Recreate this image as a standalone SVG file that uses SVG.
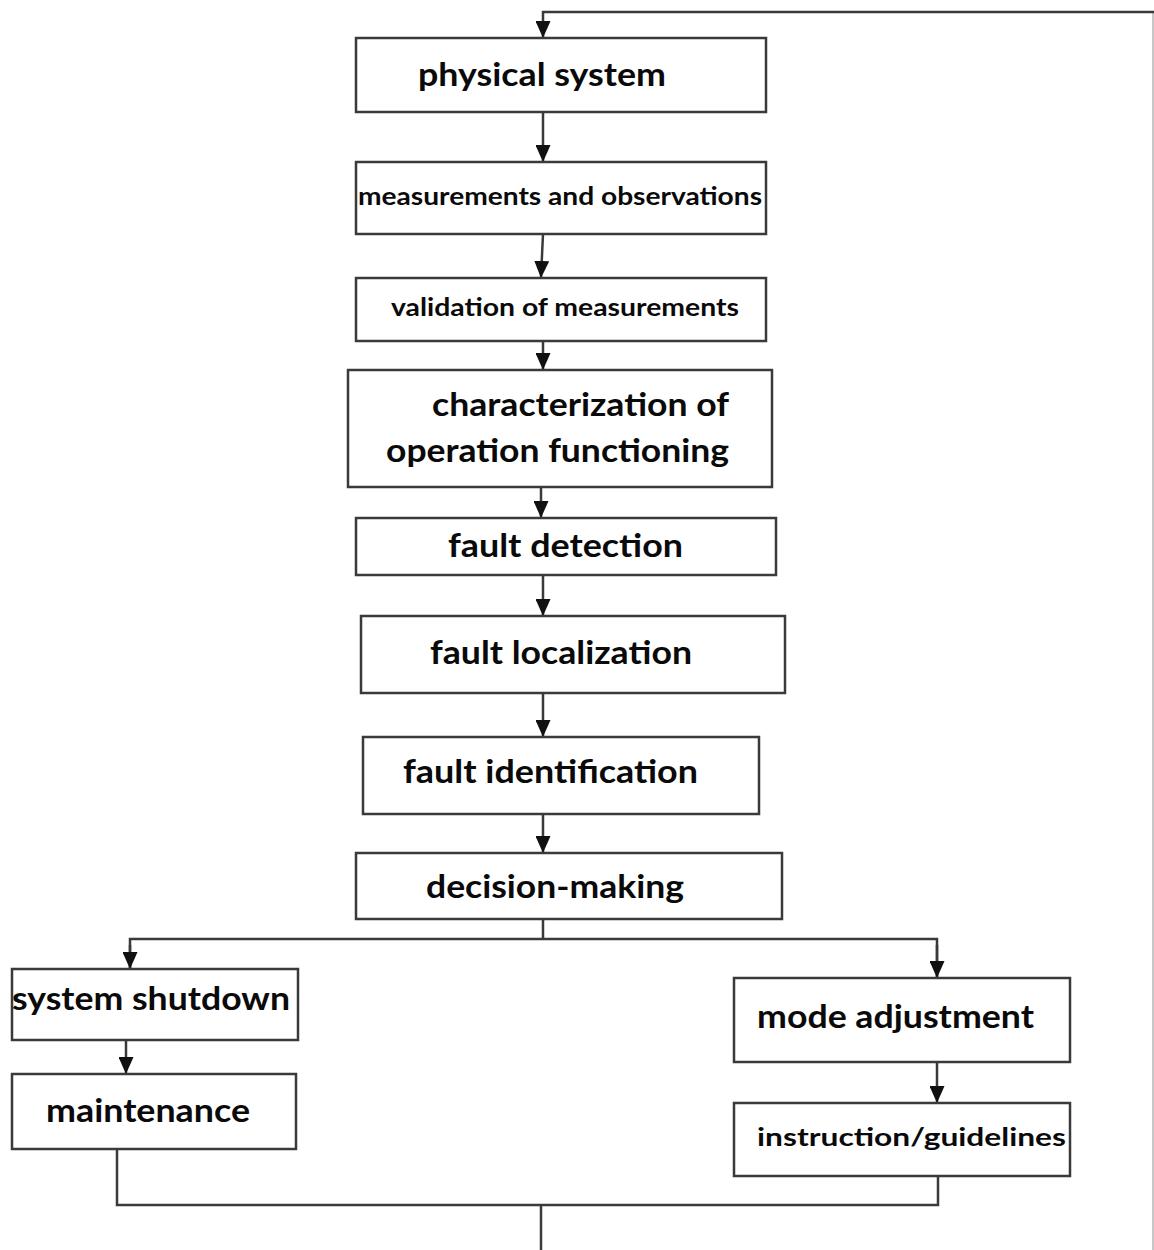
<svg xmlns="http://www.w3.org/2000/svg" width="1154" height="1250" viewBox="0 0 1154 1250">
  <style>
    .box { fill: #ffffff; stroke: #3a3a3a; stroke-width: 2.5; }
    .lbl { font-family: Lato, "Open Sans", "Liberation Sans", sans-serif; font-weight: bold; fill: #0a0a0a; }
    .big { font-size: 32px; }
    .mid { font-size: 25px; }
    .conn { fill: none; stroke: #3a3a3a; stroke-width: 2.5; }
    .edge { fill: none; stroke: #b4b4b4; stroke-width: 1.5; }
  </style>
  <defs>
    <marker id="arr" markerUnits="userSpaceOnUse" markerWidth="17" markerHeight="15" refX="16" refY="7.5" orient="auto" viewBox="0 0 17 15">
      <path d="M0,0 L17,7.5 L0,15 Z" fill="#111111"/>
    </marker>
  </defs>
  <rect width="1154" height="1250" fill="#ffffff"/>

  <g id="connectors">
    <!-- feedback loop along the top and right edge -->
    <line class="edge" x1="1153" y1="12" x2="1153" y2="1250"/>
    <polyline class="conn" points="1154,12 543,12 543,37" marker-end="url(#arr)"/>
    <line class="conn" x1="543" y1="112" x2="543" y2="161" marker-end="url(#arr)"/>
    <line class="conn" x1="543" y1="234" x2="541" y2="277" marker-end="url(#arr)"/>
    <line class="conn" x1="543" y1="341" x2="543" y2="369" marker-end="url(#arr)"/>
    <line class="conn" x1="541" y1="487" x2="541" y2="517" marker-end="url(#arr)"/>
    <line class="conn" x1="543" y1="575" x2="543" y2="615" marker-end="url(#arr)"/>
    <line class="conn" x1="543" y1="693" x2="543" y2="736" marker-end="url(#arr)"/>
    <line class="conn" x1="543" y1="814" x2="543" y2="852" marker-end="url(#arr)"/>
    <!-- branch after decision-making -->
    <line class="conn" x1="543" y1="919" x2="543" y2="939"/>
    <polyline class="conn" points="130,968 130,939 937,939 937,977"/>
    <line class="conn" x1="130" y1="945" x2="130" y2="968" marker-end="url(#arr)"/>
    <line class="conn" x1="937" y1="945" x2="937" y2="977" marker-end="url(#arr)"/>
    <line class="conn" x1="126" y1="1040" x2="126" y2="1073" marker-end="url(#arr)"/>
    <line class="conn" x1="937" y1="1062" x2="937" y2="1102" marker-end="url(#arr)"/>
    <!-- merge back into the loop -->
    <polyline class="conn" points="117,1149 117,1205 938,1205 938,1176"/>
    <line class="conn" x1="541" y1="1205" x2="541" y2="1250"/>
  </g>

  <g id="physical-system">
    <rect class="box" x="356" y="38" width="410" height="74"/>
    <text class="lbl big" x="418" y="86" textLength="248" lengthAdjust="spacingAndGlyphs">physical system</text>
  </g>
  <g id="measurements">
    <rect class="box" x="356" y="162" width="410" height="72"/>
    <text class="lbl mid" x="358" y="205" textLength="404" lengthAdjust="spacingAndGlyphs">measurements and observations</text>
  </g>
  <g id="validation">
    <rect class="box" x="356" y="278" width="410" height="63"/>
    <text class="lbl mid" x="391" y="316" textLength="348" lengthAdjust="spacingAndGlyphs">validation of measurements</text>
  </g>
  <g id="characterization">
    <rect class="box" x="348" y="370" width="424" height="117"/>
    <text class="lbl big" x="432" y="416" textLength="297" lengthAdjust="spacingAndGlyphs">characterization of</text>
    <text class="lbl big" x="386" y="462" textLength="343" lengthAdjust="spacingAndGlyphs">operation functioning</text>
  </g>
  <g id="fault-detection">
    <rect class="box" x="356" y="518" width="420" height="57"/>
    <text class="lbl big" x="448" y="557" textLength="235" lengthAdjust="spacingAndGlyphs">fault detection</text>
  </g>
  <g id="fault-localization">
    <rect class="box" x="361" y="616" width="424" height="77"/>
    <text class="lbl big" x="430" y="664" textLength="262" lengthAdjust="spacingAndGlyphs">fault localization</text>
  </g>
  <g id="fault-identification">
    <rect class="box" x="363" y="737" width="396" height="77"/>
    <text class="lbl big" x="403" y="783" textLength="295" lengthAdjust="spacingAndGlyphs">fault identification</text>
  </g>
  <g id="decision-making">
    <rect class="box" x="356" y="853" width="426" height="66"/>
    <text class="lbl big" x="426" y="898" textLength="258" lengthAdjust="spacingAndGlyphs">decision-making</text>
  </g>
  <g id="system-shutdown">
    <rect class="box" x="12" y="969" width="286" height="71"/>
    <text class="lbl big" x="12" y="1010" textLength="278" lengthAdjust="spacingAndGlyphs">system shutdown</text>
  </g>
  <g id="maintenance">
    <rect class="box" x="12" y="1074" width="284" height="75"/>
    <text class="lbl big" x="46" y="1122" textLength="204" lengthAdjust="spacingAndGlyphs">maintenance</text>
  </g>
  <g id="mode-adjustment">
    <rect class="box" x="734" y="978" width="336" height="84"/>
    <text class="lbl big" x="757" y="1028" textLength="277" lengthAdjust="spacingAndGlyphs">mode adjustment</text>
  </g>
  <g id="instruction-guidelines">
    <rect class="box" x="734" y="1103" width="336" height="73"/>
    <text class="lbl mid" x="757" y="1146" textLength="309" lengthAdjust="spacingAndGlyphs">instruction/guidelines</text>
  </g>
</svg>
